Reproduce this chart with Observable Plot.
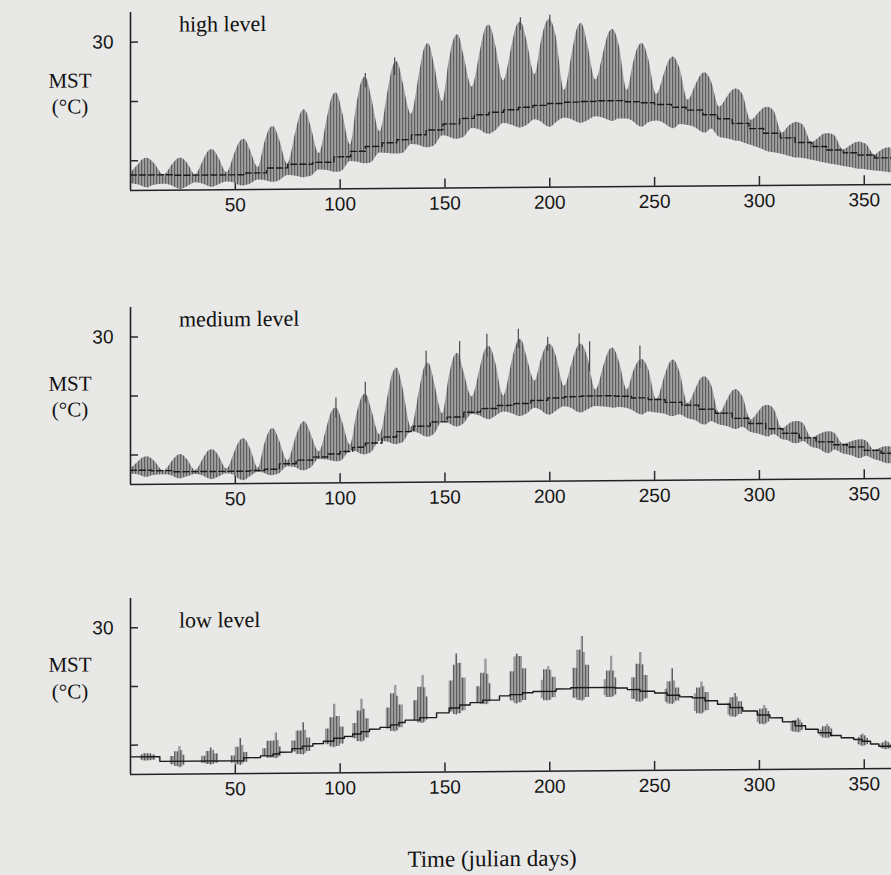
<!DOCTYPE html>
<html><head><meta charset="utf-8">
<script src="https://cdn.jsdelivr.net/npm/d3@7"></script>
<script src="https://cdn.jsdelivr.net/npm/@observablehq/plot@0.6"></script>
<style>
html,body{margin:0;padding:0;background:#e8e8e6;}
#wrap{position:relative;width:891px;height:875px;overflow:hidden;background:#e8e8e6;transform:skewY(-0.45deg);transform-origin:130px 0;}
.lbl{position:absolute;font-family:"Liberation Serif","Times New Roman",serif;color:#111;white-space:nowrap;line-height:1;}
.unit{width:44px;text-align:center;left:48px;font-size:21px;}
</style></head><body>
<svg width="0" height="0" style="position:absolute">
  <defs>
    <pattern id="stripes" patternUnits="userSpaceOnUse" width="3" height="6">
      <rect width="3" height="6" fill="#a0a0a0"></rect>
      <rect x="0" width="1" height="6" fill="#555555"></rect>
    </pattern>
  </defs>
</svg>
<div id="wrap"></div>
<script>
// ---------- data (julian day, °C) ----------
const xTicks = [50, 100, 150, 200, 250, 300, 350];
const yTicks = [10, 20, 30];
const yLabels = [30];

// spring-neap cycles: neap, rise, rise, peak, fall, fall
const cycleDay = [
  0,4,6,8,9,11, 16,20,22,24,25,27, 31,35,37,39,40,42, 46,50,52,54,55,57,
  61,64,66,68,69,71, 75,79,81,83,84,86, 90,94,96,98,99,101, 105,108,110,112,113,115,
  119,123,125,127,128,130, 134,138,140,142,143,145, 149,152,154,156,157,159, 163,167,169,171,172,174,
  178,182,184,186,187,189, 193,196,198,200,201,203, 207,211,213,215,216,218, 222,226,228,230,231,233,
  237,240,242,244,245,247, 251,255,257,259,260,262, 266,270,272,274,275,277, 281,285,287,289,290,292,
  296,300,302,304,305,307, 311,314,316,318,319,321, 325,329,331,333,334,336, 340,344,346,348,349,351,
  355,358,360,362,363
];

// high level
const highHi = [
  7.9,9.4,10.2,10.4,10.3,9.7, 7.6,9.3,10.1,10.4,10.3,9.6, 7.6,10.1,11.4,11.8,11.6,10.5, 7.9,11.3,12.9,13.5,13.3,11.8,
  8.7,12.8,14.9,15.6,15.3,13.5, 9.3,14.8,17.5,18.4,18.0,15.7, 11.0,17.1,20.2,21.2,20.8,18.1, 12.4,19.2,22.7,23.8,23.3,20.4,
  14.6,21.7,25.2,26.4,25.9,22.9, 17.5,24.6,28.2,29.4,28.9,25.8, 19.6,26.3,29.7,30.8,30.4,27.4, 22.0,28.2,31.4,32.4,32.0,29.3,
  23.0,28.9,31.9,32.9,32.5,29.9, 24.0,29.6,32.4,33.3,32.9,30.5, 21.3,28.1,31.5,32.6,32.1,29.2, 23.0,28.1,30.7,31.5,31.2,29.0,
  21.2,25.9,28.3,29.1,28.8,26.7, 20.5,24.3,26.2,26.8,26.5,24.9, 19.5,22.3,23.6,24.1,23.9,22.7, 18.3,20.1,21.0,21.3,21.2,20.4,
  16.0,17.3,18.0,18.2,18.1,17.5, 13.8,14.9,15.4,15.6,15.5,15.1, 12.2,13.1,13.6,13.7,13.6,13.3, 10.9,11.7,12.1,12.2,12.1,11.8,
  10.0,10.7,11.1,11.2,11.1
];
const highLo = [
  6.2,5.9,5.6,5.4,5.5,5.8, 6.0,5.7,5.3,5.1,5.2,5.5, 6.2,5.9,5.6,5.4,5.5,5.8, 6.3,6.1,5.7,5.6,5.7,5.9,
  6.6,6.5,6.3,6.2,6.2,6.4, 7.3,7.2,7.0,6.9,7.0,7.1, 8.2,8.1,7.9,7.8,7.8,8.0, 9.6,9.5,9.3,9.2,9.2,9.4,
  11.0,10.9,10.8,10.8,10.8,10.9, 12.4,12.2,11.9,11.8,11.9,12.1, 13.8,13.6,13.3,13.2,13.3,13.5, 15.0,14.7,14.2,14.0,14.1,14.5,
  15.8,15.5,15.2,15.0,15.1,15.4, 16.4,16.0,15.4,15.1,15.2,15.8, 16.6,16.3,15.9,15.7,15.8,16.1, 16.8,16.5,16.2,16.0,16.1,16.4,
  16.4,15.9,15.3,15.0,15.1,15.7, 16.0,15.5,15.0,14.7,14.8,15.4, 15.2,14.7,14.2,13.9,14.0,14.6, 13.2,12.9,12.7,12.5,12.5,12.3,
  11.8,11.3,11.0,10.7,10.6,10.5, 10.2,9.9,9.7,9.6,9.6,9.5, 9.2,8.9,8.7,8.6,8.5,8.4, 8.1,7.9,7.7,7.6,7.6,7.5,
  7.3,7.2,7.1,7.0,7.0
];
const highMeanDay = [0,20,40,55,65,75,87,97,105,112,120,127,134,141,149,157,164,171,178,185,192,199,207,214,222,229,236,243,250,258,265,273,280,287,295,302,310,317,325,332,340,347,355,363];
const highMean = [7.6,7.5,7.5,7.8,8.6,9.2,9.5,10.4,11.3,12.1,12.7,13.2,14.0,14.8,15.8,16.7,17.3,17.7,18.1,18.5,18.8,19.1,19.3,19.4,19.5,19.5,19.3,19.1,18.8,18.3,17.8,17.0,16.3,15.5,14.6,13.8,13.0,12.2,11.5,10.9,10.4,10.0,9.5,9.0];
const highSpikeDay = [112, 126, 186, 200];
const highSpikeLo = [22.0, 24.0, 31.5, 32.0];
const highSpikeHi = [24.4, 27.0, 33.6, 34.0];

// medium level
const mediumHi = [
  7.6,8.9,9.5,9.7,9.6,9.1, 7.3,8.9,9.7,10.0,9.9,9.2, 7.3,9.4,10.5,10.8,10.7,9.8, 7.5,10.6,12.1,12.6,12.4,11.1,
  7.6,11.6,13.6,14.3,14.0,12.3, 8.8,12.8,14.7,15.4,15.1,13.4, 10.3,14.7,17.0,17.7,17.4,15.5, 11.4,16.6,19.1,20.0,19.7,17.4,
  13.1,19.9,23.3,24.4,23.9,21.0, 14.3,20.8,24.1,25.2,24.8,21.9, 16.6,22.7,25.8,26.8,26.4,23.7, 19.4,24.5,27.1,27.9,27.6,25.4,
  19.5,25.3,28.1,29.1,28.7,26.2, 22.0,25.7,27.6,28.2,28.0,26.3, 21.1,25.4,27.5,28.2,27.9,26.1, 20.4,24.7,26.8,27.5,27.2,25.4,
  20.4,23.5,25.0,25.5,25.3,24.0, 18.7,22.7,24.7,25.4,25.1,23.4, 18.0,20.7,22.1,22.5,22.3,21.2, 16.3,18.7,19.9,20.3,20.1,19.1,
  15.1,16.6,17.4,17.6,17.5,16.9, 13.6,14.3,14.7,14.8,14.8,14.4, 12.0,12.6,12.9,13.0,13.0,12.7, 10.9,11.3,11.5,11.6,11.6,11.4,
  9.8,10.2,10.4,10.4,10.4
];
const mediumLo = [
  6.8,6.6,6.3,6.2,6.3,6.5, 6.6,6.4,6.0,5.9,6.0,6.2, 6.6,6.3,5.9,5.7,5.8,6.1, 6.7,6.3,5.7,5.5,5.6,6.1,
  6.9,6.7,6.4,6.3,6.4,6.6, 7.8,7.6,7.2,7.1,7.2,7.5, 9.0,8.9,8.7,8.6,8.6,8.8, 10.4,10.2,9.8,9.7,9.8,10.1,
  12.0,11.8,11.5,11.4,11.5,11.7, 13.6,13.2,12.8,12.6,12.7,13.1, 15.2,14.9,14.5,14.3,14.4,14.8, 16.4,16.1,15.7,15.5,15.6,16.0,
  16.8,16.5,16.2,16.0,16.1,16.4, 17.4,17.0,16.4,16.2,16.3,16.8, 17.6,17.2,16.7,16.5,16.6,17.0, 17.6,17.5,17.4,17.3,17.3,17.4,
  17.2,16.8,16.3,16.1,16.2,16.6, 16.4,16.2,15.9,15.8,15.9,16.1, 15.4,15.0,14.5,14.3,14.4,14.9, 14.3,14.0,13.7,13.5,13.6,13.9,
  13.0,12.7,12.4,12.2,12.3,12.6, 11.7,11.5,11.1,11.0,11.1,11.4, 10.4,10.0,9.5,9.3,9.4,9.9, 9.2,8.9,8.6,8.4,8.5,8.8,
  8.2,7.9,7.6,7.5,7.5
];
const mediumMeanDay = [0,10,20,30,40,50,57,64,71,79,87,94,100,106,112,120,127,135,143,151,159,167,175,183,191,199,207,215,223,231,239,247,255,263,271,279,287,295,303,311,319,327,335,342,350,358,363];
const mediumMean = [7.4,7.3,7.1,7.1,7.1,7.1,7.2,7.4,8.3,8.9,9.4,9.9,10.3,11.0,11.7,12.7,13.6,14.5,15.2,16.0,16.8,17.4,17.9,18.2,18.7,19.1,19.3,19.4,19.4,19.3,19.0,18.7,18.2,17.7,17.0,16.3,15.4,14.5,13.6,12.8,12.0,11.3,10.8,10.4,9.8,9.3,9.0];
const mediumSpikeDay = [98, 112, 141, 157, 170, 185, 199, 214, 219, 243];
const mediumSpikeLo = [16.0, 18.5, 23.0, 24.0, 26.0, 27.5, 27.0, 27.0, 23.5, 24.0];
const mediumSpikeHi = [19.4, 22.0, 27.2, 28.8, 30.0, 30.8, 29.4, 29.9, 28.6, 27.8];

// low level (exposure only around spring tides)
const lowDay = [
  5,6,8,9,10,12, 19,21,23,24,25,26, 34,36,38,39,40,42, 48,50,52,53,54,56, 63,65,69,70,71,72,
  77,79,82,83,84,86, 93,95,97,98,100,102, 106,108,110,111,112,114, 122,124,126,127,128,130, 135,137,139,140,141,142,
  152,154,155,156,158,160, 165,167,169,170,171,172, 181,183,184,185,187,189, 196,197,199,200,201,203, 211,213,215,216,217,219,
  226,227,229,230,231,232, 239,241,243,244,245,247, 255,256,258,259,260,262, 269,270,272,273,274,276, 285,286,288,289,290,292,
  299,300,302,303,304,305, 315,316,318,319,320,321, 329,330,332,333,334,335, 347,348,349,350,351,352, 358,359,360,361,362,363
];
const lowHi = [
  8.3,8.5,8.5,8.5,8.3,8.0, 8.0,8.8,9.7,9.0,8.2,7.2, 8.0,8.8,9.4,9.0,8.4,7.2, 8.0,9.5,11.0,9.8,8.6,7.7, 9.2,10.5,11.9,10.6,9.5,8.6,
  10.5,12.2,13.6,12.3,11.0,9.8, 12.5,14.4,16.7,14.6,12.8,11.2, 13.4,15.5,17.5,15.8,14.2,12.4, 16.0,18.4,19.8,18.0,16.5,13.6, 17.2,19.5,21.5,19.4,17.8,14.3,
  20.5,23.2,25.1,23.5,21.0,16.6, 19.5,21.8,24.2,21.6,20.0,17.4, 22.0,24.5,25.0,24.6,22.5,18.4, 20.5,22.3,22.8,22.2,21.0,19.0, 22.5,25.6,27.9,25.2,23.0,19.2,
  20.5,22.0,24.5,22.0,20.8,19.1, 20.8,23.1,25.1,23.0,21.2,18.5, 18.8,20.1,22.3,20.2,19.0,17.5, 18.0,19.0,20.0,19.2,18.2,16.8, 16.4,17.3,18.0,17.4,16.6,15.0,
  14.8,15.3,15.9,15.4,14.9,13.8, 12.8,13.3,13.7,13.4,12.9,11.8, 11.7,12.2,12.6,12.2,11.8,10.7, 10.3,10.7,10.9,10.6,10.2,9.5, 9.3,9.5,9.7,9.5,9.2,8.3
];
const lowLo = [
  7.4,7.3,7.3,7.3,7.4,8.0, 6.6,6.3,6.1,6.2,6.5,7.2, 6.8,6.6,6.5,6.6,6.8,7.2, 6.8,6.5,6.4,6.6,6.9,7.7, 7.9,7.6,7.5,7.6,7.9,8.6,
  8.6,8.2,8.1,8.3,8.7,9.8, 9.8,9.4,9.3,9.5,9.9,11.2, 10.8,10.3,10.2,10.4,10.9,12.4, 12.4,12.0,11.9,12.1,12.6,13.6, 13.8,13.4,13.3,13.5,13.9,14.3,
  15.2,14.8,14.7,14.9,15.4,16.6, 16.8,16.5,16.4,16.5,16.9,17.4, 17.0,16.6,16.5,16.7,17.1,18.4, 17.4,17.0,17.0,17.1,17.5,19.0, 17.4,17.0,16.9,17.1,17.5,19.2,
  17.8,17.5,17.5,17.6,17.9,19.1, 17.1,16.7,16.6,16.8,17.2,18.5, 16.6,16.3,16.2,16.4,16.8,17.5, 15.0,14.6,14.5,14.7,15.1,16.8, 14.3,14.0,13.9,14.1,14.4,15.0,
  13.0,12.7,12.6,12.8,13.1,13.8, 11.5,11.3,11.2,11.3,11.6,11.8, 10.5,10.3,10.2,10.3,10.5,10.7, 9.1,8.9,8.8,8.9,9.1,9.5, 8.4,8.3,8.2,8.3,8.4,8.3
];
const lowMeanDay = [0,14,54,62,68,71,77,82,87,92,97,102,106,110,114,119,124,128,131,138,146,152,157,162,168,176,181,187,192,203,210,231,237,243,250,256,262,268,274,280,286,292,299,305,311,317,322,328,334,339,345,349,353,357,363];
const lowMean = [8.0,7.2,7.7,8.0,8.3,8.6,9.2,9.6,10.0,10.4,10.9,11.2,11.6,12.0,12.4,12.7,13.1,13.5,13.9,14.3,15.1,15.9,16.4,16.8,17.2,17.9,18.1,18.4,18.6,19.0,19.2,19.1,18.8,18.5,18.2,17.8,17.5,17.3,16.8,16.2,15.6,15.0,14.3,13.8,13.1,12.4,11.8,11.2,10.7,10.3,10.0,9.7,9.2,8.8,8.3];

const panelTitles = ["high level", "medium level", "low level"];

// ---------- build ----------
const zip3 = (d, lo, hi) => d.map((x, i) => ({day: x, lo: lo[i], hi: hi[i]}));
const zip2 = (d, t) => d.map((x, i) => ({day: x, t: t[i]}));

const panels = [
  {top: 0, innerH: 178, rows: zip3(cycleDay, highLo, highHi), curve: "monotone-x", mean: zip2(highMeanDay, highMean), dashed: true, spikes: zip3(highSpikeDay, highSpikeLo, highSpikeHi)},
  {top: 295, innerH: 177, rows: zip3(cycleDay, mediumLo, mediumHi), curve: "monotone-x", mean: zip2(mediumMeanDay, mediumMean), dashed: true, spikes: zip3(mediumSpikeDay, mediumSpikeLo, mediumSpikeHi)},
  {top: 586, innerH: 176, rows: zip3(lowDay, lowLo, lowHi), curve: "step-after", mean: zip2(lowMeanDay, lowMean), dashed: false, spikes: []}
];

const wrap = document.getElementById("wrap");
const W = 891, ML = 130, MT = 12, MB = 32;

panels.forEach(p => {
  const svg = Plot.plot({
    width: W,
    height: MT + p.innerH + MB,
    marginLeft: ML, marginRight: 0, marginTop: MT, marginBottom: MB,
    style: {background: "transparent", fontFamily: "'Liberation Sans', Arial, sans-serif", fontSize: "19px", color: "#161616", overflow: "visible"},
    x: {domain: [0, 363], ticks: xTicks, tickSize: 0, tickPadding: 8, label: null},
    y: {domain: [5, 35], ticks: yLabels, tickSize: 0, tickPadding: 17, label: null},
    marks: [
      Plot.tickX(xTicks, {x: d => d, insetTop: p.innerH - 9, stroke: "#2a2a2a", strokeWidth: 1.5}),
      Plot.tickY(yTicks, {y: d => d, insetRight: (W - ML) - 8, stroke: "#2a2a2a", strokeWidth: 1.5}),
      Plot.areaY(p.rows, {x: "day", y1: "lo", y2: "hi", curve: p.curve, fill: "url(#stripes)"}),
      Plot.ruleX(p.spikes, {x: "day", y1: "lo", y2: "hi", stroke: "#4a4a4a", strokeWidth: 1.2}),
      Plot.line(p.mean, {x: "day", y: "t", curve: "step-after", stroke: "#1b1b1b", strokeWidth: 1.4, strokeDasharray: p.dashed ? "6,3" : null}),
      Plot.ruleX([0], {stroke: "#222", strokeWidth: 1.6}),
      Plot.ruleY([5], {stroke: "#222", strokeWidth: 1.6})
    ]
  });
  svg.style.position = "absolute";
  svg.style.left = "0px";
  svg.style.top = p.top + "px";
  wrap.appendChild(svg);
});

// labels (HTML text)
function addLabel(text, cls, css) {
  const el = document.createElement("div");
  el.className = "lbl " + cls;
  el.textContent = text;
  Object.assign(el.style, css);
  wrap.appendChild(el);
}
const titleTops = [13.5, 309, 609.5];
panelTitles.forEach((t, i) => addLabel(t, "", {left: "179px", top: titleTops[i] + "px", fontSize: "22px"}));
const unitTops = [[70.4, 96.4], [373.4, 399.4], [654.4, 681.4]];
unitTops.forEach(([a, b]) => {
  addLabel("MST", "unit", {top: a + "px"});
  addLabel("(°C)", "unit", {top: b + "px"});
});
addLabel("Time (julian days)", "", {left: "392px", width: "200px", textAlign: "center", top: "849.5px", fontSize: "23px"});
</script>
</body></html>
